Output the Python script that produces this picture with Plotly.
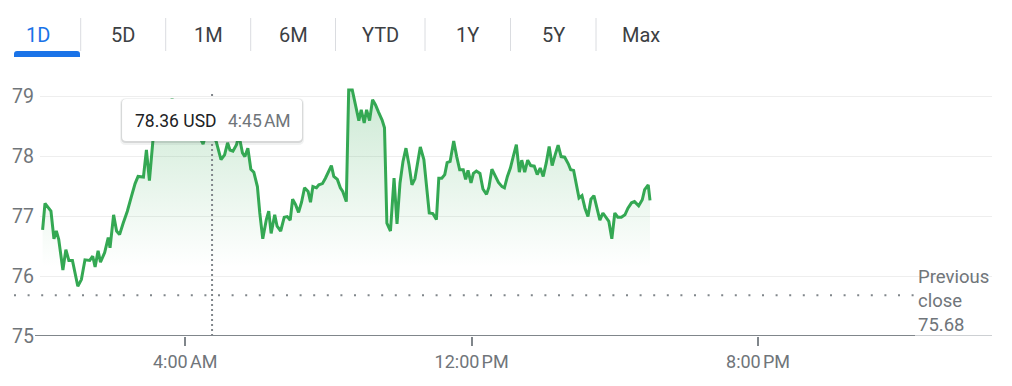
import plotly.graph_objects as go

# ---------------- data ----------------
TABS = ["1D", "5D", "1M", "6M", "YTD", "1Y", "5Y", "Max"]
SELECTED_TAB = "1D"
CURRENCY = "USD"
PREV_CLOSE = 75.68
HOVER_TIME = "04:45"

TIMES = [
    "00:01", "00:05", "00:15", "00:20", "00:24", "00:28", "00:35", "00:40", "00:45", "00:51",
    "01:00", "01:06", "01:12", "01:20", "01:25", "01:29", "01:34", "01:38", "01:45", "01:51",
    "01:54", "02:00", "02:05", "02:10", "02:16", "02:23", "02:30", "02:36", "02:41", "02:50",
    "02:55", "03:00", "03:06", "03:11", "03:18", "03:24", "03:31", "03:38", "03:45", "03:51",
    "03:58", "04:05", "04:11", "04:18", "04:25", "04:30", "04:37", "04:45", "04:52", "05:00",
    "05:06", "05:11", "05:15", "05:20", "05:26", "05:30", "05:36", "05:40", "05:45", "05:50",
    "05:55", "06:01", "06:05", "06:10", "06:16", "06:20", "06:24", "06:30", "06:34", "06:40",
    "06:46", "06:51", "06:56", "07:00", "07:05", "07:10", "07:15", "07:20", "07:26", "07:30",
    "07:34", "07:40", "07:44", "07:50", "07:55", "08:01", "08:05", "08:09", "08:15", "08:20",
    "08:24", "08:30", "08:34", "08:40", "08:45", "08:51", "08:55", "09:00", "09:04", "09:09",
    "09:14", "09:19", "09:24", "09:30", "09:34", "09:38", "09:44", "09:50", "09:55", "10:00",
    "10:05", "10:10", "10:15", "10:20", "10:25", "10:29", "10:34", "10:40", "10:44", "10:49",
    "10:55", "11:01", "11:05", "11:10", "11:15", "11:19", "11:24", "11:30", "11:35", "11:40",
    "11:46", "11:50", "11:54", "11:59", "12:03", "12:08", "12:14", "12:19", "12:25", "12:29",
    "12:34", "12:40", "12:45", "12:51", "12:55", "13:00", "13:05", "13:10", "13:15", "13:20",
    "13:24", "13:29", "13:34", "13:39", "13:45", "13:50", "13:55", "14:00", "14:05", "14:10",
    "14:15", "14:20", "14:25", "14:30", "14:36", "14:42", "14:46", "14:51", "14:55", "15:00",
    "15:05", "15:10", "15:15", "15:20", "15:25", "15:30", "15:35", "15:40", "15:46", "15:50",
    "15:55", "16:00", "16:05", "16:11", "16:17", "16:22", "16:28", "16:33", "16:40", "16:46",
    "16:50", "16:56", "16:59",
]
PRICES = [
    76.77, 77.21, 77.08, 76.62, 76.75, 76.61, 76.10, 76.44, 76.26, 76.26,
    75.83, 75.94, 76.27, 76.26, 76.33, 76.15, 76.42, 76.23, 76.39, 76.64,
    76.47, 77.02, 76.75, 76.69, 76.88, 77.08, 77.33, 77.54, 77.66, 77.65,
    78.10, 77.59, 78.27, 78.50, 78.62, 78.45, 78.70, 78.95, 78.70, 78.58,
    78.48, 78.66, 78.45, 78.55, 78.30, 78.20, 78.45, 78.36, 78.24, 77.94,
    78.02, 78.22, 78.10, 78.08, 78.19, 78.35, 78.05, 77.99, 78.13, 77.78,
    77.73, 77.49, 77.05, 76.62, 76.94, 77.08, 76.71, 77.02, 76.83, 76.75,
    76.98, 76.99, 76.93, 77.28, 77.19, 77.06, 77.23, 77.47, 77.41, 77.23,
    77.49, 77.47, 77.52, 77.54, 77.63, 77.76, 77.84, 77.66, 77.61, 77.47,
    77.41, 77.24, 79.10, 79.10, 78.85, 78.59, 78.77, 78.55, 78.77, 78.59,
    78.94, 78.85, 78.73, 78.60, 78.47, 76.88, 76.75, 77.63, 76.87, 77.55,
    77.91, 78.13, 77.86, 77.52, 77.62, 77.88, 78.15, 77.94, 77.49, 77.05,
    77.04, 76.94, 77.63, 77.63, 77.69, 77.89, 77.91, 78.25, 77.99, 77.77,
    77.77, 77.61, 77.76, 77.55, 77.71, 77.75, 77.71, 77.45, 77.36, 77.48,
    77.78, 77.67, 77.56, 77.49, 77.47, 77.66, 77.80, 78.00, 78.19, 77.73,
    77.93, 77.73, 77.93, 77.84, 77.83, 77.69, 77.80, 77.66, 77.88, 78.16,
    77.84, 78.02, 78.18, 77.99, 77.98, 77.87, 77.77, 77.76, 77.55, 77.30,
    77.34, 77.13, 76.99, 77.28, 77.34, 77.13, 76.93, 77.05, 76.97, 76.91,
    76.62, 77.05, 76.98, 76.98, 77.02, 77.13, 77.22, 77.24, 77.17, 77.27,
    77.44, 77.52, 77.26,
]

X_TICKS = [4, 12, 20]
X_TICK_LABELS = ["4:00\u202fAM", "12:00\u202fPM", "8:00\u202fPM"]
Y_TICKS = [75, 76, 77, 78, 79]

# ---------------- layout geometry ----------------
W, H = 1012, 386
ML, MR, MT, MB = 40, 20, 81, 50
PW, PH = W - ML - MR, H - MT - MB
XMIN, XMAX = -0.056, 26.536
YMIN, YMAX = 75, 79.25

FONT = "Roboto, Arial, sans-serif"
GREEN = "#34a853"
GRAY_TXT = "#70757a"
AXIS_GRAY = "#80868b"

TAB_X = [37.5, 123, 208, 293, 380, 467.5, 553, 641]
SEP_X = [80.7, 165.7, 250.7, 335.5, 425, 510.5, 596]


def hours(t):
    h, m = t.split(":")
    return int(h) + int(m) / 60.0


def fmt12(t):
    h, m = [int(v) for v in t.split(":")]
    suf = "AM" if h < 12 else "PM"
    hh = h % 12 or 12
    return f"{hh}:{m:02d}\u202f{suf}"


def px_x(px):
    return (px - ML) / PW


def px_y(py):
    return (H - MB - py) / PH


def hour_to_px(h):
    return ML + (h - XMIN) / (XMAX - XMIN) * PW


def rrect_path(x0, y0, x1, y1, r):
    X, Y = px_x, px_y
    return (f"M {X(x0 + r)},{Y(y0)} L {X(x1 - r)},{Y(y0)} Q {X(x1)},{Y(y0)} {X(x1)},{Y(y0 + r)} "
            f"L {X(x1)},{Y(y1 - r)} Q {X(x1)},{Y(y1)} {X(x1 - r)},{Y(y1)} "
            f"L {X(x0 + r)},{Y(y1)} Q {X(x0)},{Y(y1)} {X(x0)},{Y(y1 - r)} "
            f"L {X(x0)},{Y(y0 + r)} Q {X(x0)},{Y(y0)} {X(x0 + r)},{Y(y0)} Z")


xs = [hours(t) for t in TIMES]

fig = go.Figure()
fig.add_trace(go.Scatter(
    x=xs, y=PRICES, mode="lines",
    line=dict(color=GREEN, width=3),
    fill="tozeroy",
    fillgradient=dict(type="vertical",
                      colorscale=[[0, "rgba(52,168,83,0)"], [1, "rgba(52,168,83,0.25)"]],
                      start=76.15, stop=79.1),
    hoverinfo="skip", showlegend=False,
))

shapes = []
annotations = []

# previous close dotted line
shapes.append(dict(type="line", xref="paper", yref="y", x0=px_x(14), x1=px_x(915),
                   y0=PREV_CLOSE, y1=PREV_CLOSE, layer="above",
                   line=dict(color=AXIS_GRAY, width=2, dash="2px,11.6px")))
# axis baseline
shapes.append(dict(type="line", xref="paper", yref="y", x0=px_x(35), x1=px_x(915),
                   y0=YMIN, y1=YMIN, layer="above", line=dict(color=AXIS_GRAY, width=2)))
shapes.append(dict(type="line", xref="paper", yref="y", x0=px_x(915), x1=1,
                   y0=YMIN, y1=YMIN, layer="above", line=dict(color="#9aa0a6", width=1)))

# hover crosshair
hh = hours(HOVER_TIME)
shapes.append(dict(type="line", xref="x", yref="paper", x0=hh, x1=hh, y0=0, y1=px_y(91),
                   layer="above", line=dict(color=AXIS_GRAY, width=2, dash="2px,3px")))

# tooltip box with shadow
hx = hour_to_px(hh)
bx0, bx1, by0, by1 = hx - 90, hx + 90, 99, 141
shapes.append(dict(type="path", xref="paper", yref="paper", layer="above",
                   path=rrect_path(bx0 - 2, by0 - 1, bx1 + 2, by1 + 4, 6),
                   fillcolor="rgba(60,64,67,0.07)", line=dict(width=0)))
shapes.append(dict(type="path", xref="paper", yref="paper", layer="above",
                   path=rrect_path(bx0 - 1, by0, bx1 + 1, by1 + 2, 5),
                   fillcolor="rgba(60,64,67,0.14)", line=dict(width=0)))
shapes.append(dict(type="path", xref="paper", yref="paper", layer="above",
                   path=rrect_path(bx0, by0, bx1, by1, 4),
                   fillcolor="white", line=dict(width=0)))
price_at = PRICES[TIMES.index(HOVER_TIME)]
annotations.append(dict(xref="paper", yref="paper", x=px_x(bx0 + 11), y=px_y(120.5),
                        xanchor="left", yanchor="middle", showarrow=False,
                        text=f"{price_at:.2f} {CURRENCY}",
                        font=dict(family=FONT, size=17.5, color="#202124")))
annotations.append(dict(xref="paper", yref="paper", x=px_x(bx0 + 104), y=px_y(120.5),
                        xanchor="left", yanchor="middle", showarrow=False,
                        text=fmt12(HOVER_TIME),
                        font=dict(family=FONT, size=17.5, color=GRAY_TXT)))

# previous close label
annotations.append(dict(xref="paper", yref="y", x=px_x(916), y=PREV_CLOSE, yshift=-6,
                        xanchor="left", yanchor="middle", align="left", showarrow=False,
                        text=f"Previous<br>close<br>{PREV_CLOSE:.2f}",
                        font=dict(family=FONT, size=18.5, color=GRAY_TXT)))

# tabs
for name, cx in zip(TABS, TAB_X):
    annotations.append(dict(xref="paper", yref="paper", x=px_x(cx), y=px_y(35),
                            xanchor="center", yanchor="middle", showarrow=False, text=name,
                            font=dict(family=FONT, size=20,
                                      color="#1a73e8" if name == SELECTED_TAB else "#3c4043")))
for sx in SEP_X:
    shapes.append(dict(type="line", xref="paper", yref="paper", x0=px_x(sx), x1=px_x(sx),
                       y0=px_y(18), y1=px_y(51), line=dict(color="#dadce0", width=1)))
shapes.append(dict(type="path", xref="paper", yref="paper", layer="above",
                   path=(f"M {px_x(14)},{px_y(57)} L {px_x(14)},{px_y(54)} "
                         f"Q {px_x(14)},{px_y(51)} {px_x(17)},{px_y(51)} "
                         f"L {px_x(77)},{px_y(51)} Q {px_x(80)},{px_y(51)} {px_x(80)},{px_y(54)} "
                         f"L {px_x(80)},{px_y(57)} Z"),
                   fillcolor="#1a73e8", line=dict(width=0)))

fig.update_layout(
    width=W, height=H,
    margin=dict(l=ML, r=MR, t=MT, b=MB, pad=0),
    paper_bgcolor="white", plot_bgcolor="white",
    hovermode=False, showlegend=False,
    font=dict(family=FONT, color=GRAY_TXT),
    shapes=shapes, annotations=annotations,
    xaxis=dict(range=[XMIN, XMAX], tickvals=X_TICKS, ticktext=X_TICK_LABELS,
               showgrid=False, zeroline=False, showline=False,
               ticks="outside", ticklen=9, tickwidth=2, tickcolor=AXIS_GRAY,
               tickfont=dict(family=FONT, size=18, color=GRAY_TXT), fixedrange=True),
    yaxis=dict(range=[YMIN, YMAX], tickvals=Y_TICKS, showgrid=True, gridcolor="#eeeeee",
               gridwidth=1, zeroline=False, showline=False, ticks="", ticklabelstandoff=5,
               tickfont=dict(family=FONT, size=19.5, color=GRAY_TXT), fixedrange=True),
)

fig.write_html("out.html", config={"displayModeBar": False},
               post_script="document.body.style.margin='0';document.body.style.overflow='hidden';")
